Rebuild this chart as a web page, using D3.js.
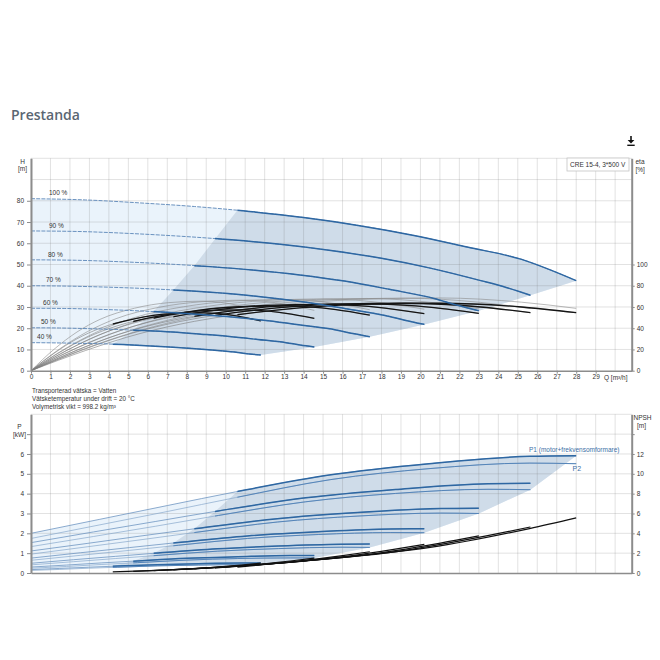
<!DOCTYPE html>
<html><head><meta charset="utf-8">
<script src="https://cdn.jsdelivr.net/npm/d3@7"></script>
<style>
html,body{margin:0;padding:0;background:#fff;}
svg{display:block;font-family:"Liberation Sans",Arial,sans-serif;}
</style></head><body>
<svg id="c" width="660" height="660"></svg>
<script>
// ---------------- DATA ----------------
const speedLabels = ["100 %","90 %","80 %","70 %","60 %","50 %","40 %"];
const qTicks = [0,1,2,3,4,5,6,7,8,9,10,11,12,13,14,15,16,17,18,19,20,21,22,23,24,25,26,27,28,29];
const hTicks = [0,10,20,30,40,50,60,70,80];
const etaTicks = [0,20,40,60,80,100];
const pTicks = [0,1,2,3,4,5,6];
const npshTicks = [0,2,4,6,8,10,12];

// pump head curves (Q in m3/h, H in m)
const headQ = [
 [0,2.8,5.6,8.4,11.2,14,16.8,19.6,22.4,25.2,26.6,28],
 [0,2.6,5.1,7.7,10.3,12.8,15.4,18,20.5,23.1,24.4,25.65],
 [0,2.3,4.6,6.9,9.2,11.5,13.8,16.1,18.4,20.7,21.85,23],
 [0,2.02,4.04,6.06,8.08,10.1,12.12,14.14,16.16,18.18,19.19,20.2],
 [0,1.74,3.48,5.22,6.96,8.7,10.44,12.18,13.92,15.66,16.53,17.4],
 [0,1.46,2.91,4.37,5.82,7.28,8.73,10.19,11.64,13.1,13.82,14.55],
 [0,1.18,2.36,3.54,4.72,5.9,7.08,8.26,9.44,10.62,11.21,11.8]
];
const headH = [
 [81,80.4,79,77.3,75,72.1,68.4,63.8,58.2,52.4,47.7,42.4],
 [65.8,65.5,64.6,63.3,61.6,59.5,56.6,52.9,48.3,42.4,39.2,35.5],
 [52.2,52.0,51.3,50.3,49.0,47.3,45.1,42.2,38.3,34.0,30.9,28.2],
 [40,39.8,39.3,38.6,37.6,36.3,34.5,32.2,29.2,26.0,23.8,21.8],
 [29.4,29.3,28.9,28.3,27.5,26.5,25.2,23.5,21.4,19.2,17.5,16.0],
 [20.2,20.1,19.8,19.4,18.9,18.2,17.2,16.1,14.7,13.2,12.1,11.2],
 [13.2,13.1,12.9,12.7,12.3,11.8,11.2,10.5,9.6,8.6,7.9,7.4]
];
// start of recommended range per speed
const rangeStartQ = [10.6,9.45,8.39,7.31,6.3,5.25,4.2];
const rangeStartH = [75.5,62.0,49.4,38.0,27.9,19.1,12.5];
const rangeStartP1 = [4.11,3.1,2.23,1.51,0.99,0.6,0.34];

// efficiency curves (%)
const etaQ = [
 [0,2.8,5.6,8.4,12.6,16.8,21,25.2,28],
 [0,2.57,5.13,7.7,11.54,15.39,19.24,23.09,25.65],
 [0,2.3,4.6,6.9,10.35,13.8,17.25,20.7,23],
 [0,2.02,4.04,6.06,9.09,12.12,15.15,18.18,20.2],
 [0,1.74,3.48,5.22,7.83,10.44,13.05,15.66,17.4],
 [0,1.46,2.91,4.37,6.55,8.73,10.91,13.1,14.55],
 [0,1.18,2.36,3.54,5.31,7.08,8.85,10.62,11.8]
];
const etaTotal = [
 [0,19,35,46.5,57,62.5,63.5,60,54.6],
 [0,19,35,46.5,57,62.5,63.5,60,54.6],
 [0,18.8,34.7,46,56.4,61.9,62.9,59.4,54],
 [0,18.7,34.4,45.8,56.1,61.5,62.5,59,53.7],
 [0,18.2,33.6,44.6,54.7,60,61,57.6,52.4],
 [0,17.1,31.5,41.9,51.3,56.3,57.2,54,49.3],
 [0,16.3,30,39.9,48.9,53.6,54.4,51.4,46.8]
];
const etaPump = [
 [0,21,38,50.5,61.5,67,68.5,64.5,58.7],
 [0,21,38,50.4,61.3,66.8,68.3,64.3,58.5],
 [0,20.9,37.8,50.2,61,66.5,68,64,58.2],
 [0,20.8,37.6,49.9,60.7,66.1,67.6,63.6,57.9],
 [0,20.6,37.3,49.5,60.2,65.6,67.1,63.1,57.4],
 [0,20.4,36.9,49,59.6,64.9,66.4,62.5,56.8],
 [0,20.1,36.4,48.3,58.8,64.1,65.5,61.6,56.1]
];

// power curves (kW)
const powQ = [
 [0,3.5,7,10.5,15.4,20.44,25.62,28],
 [0,3.21,6.41,9.62,14.11,18.72,23.47,25.65],
 [0,2.88,5.75,8.63,12.65,16.79,21.05,23],
 [0,2.53,5.05,7.58,11.11,14.75,18.48,20.2],
 [0,2.18,4.35,6.53,9.57,12.7,15.92,17.4],
 [0,1.82,3.64,5.46,8.0,10.62,13.31,14.55],
 [0,1.48,2.95,4.43,6.49,8.61,10.8,11.8]
];
const powP1 = [
 [2.0,2.7,3.4,4.09,4.95,5.51,5.88,5.91],
 [1.53,2.07,2.6,3.13,3.79,4.21,4.5,4.52],
 [1.11,1.49,1.88,2.26,2.74,3.05,3.25,3.27],
 [0.75,1.02,1.28,1.54,1.87,2.08,2.22,2.23],
 [0.49,0.67,0.84,1.01,1.22,1.36,1.45,1.46],
 [0.30,0.40,0.51,0.61,0.74,0.82,0.88,0.88],
 [0.17,0.23,0.29,0.35,0.42,0.47,0.5,0.5]
];
const powP2 = [
 [1.74,2.42,3.1,3.8,4.71,5.26,5.54,5.51],
 [1.33,1.84,2.36,2.9,3.59,4.01,4.22,4.2],
 [0.95,1.32,1.69,2.07,2.57,2.87,3.02,3.0],
 [0.64,0.89,1.14,1.4,1.74,1.94,2.04,2.03],
 [0.41,0.57,0.73,0.89,1.1,1.23,1.3,1.29],
 [0.24,0.33,0.43,0.52,0.65,0.73,0.76,0.76],
 [0.13,0.18,0.24,0.29,0.36,0.4,0.42,0.42]
];

// NPSH curves (m)
const npshQ = [
 [10.6,15.36,20.5,25.6,28],
 [9.45,14.07,18.78,23.45,25.65],
 [8.39,12.62,16.84,21.03,23],
 [7.31,11.08,14.79,18.47,20.2],
 [6.3,9.54,12.74,15.91,17.4],
 [5.25,7.99,10.66,13.31,14.55],
 [4.2,6.47,8.63,10.78,11.8]
];
const npshV = [
 [0.6,1.47,2.58,4.48,5.55],
 [0.5,1.23,2.16,3.76,4.64],
 [0.41,0.99,1.74,3.02,3.74],
 [0.31,0.76,1.34,2.33,2.88],
 [0.23,0.57,1.0,1.73,2.14],
 [0.16,0.4,0.7,1.21,1.5],
 [0.11,0.26,0.46,0.8,0.99]
];

const notes = ["Transporterad vätska = Vatten","Vätsketemperatur under drift = 20 °C","Volymetrisk vikt = 998.2 kg/m³"];

// ---------------- DRAWING ----------------
const svg = d3.select("#c");
const X0 = 31, X1 = 631.7;
const x = d3.scaleLinear().domain([0,30.85]).range([X0,X1]);
const yH = d3.scaleLinear().domain([0,100]).range([370.7,158.3]);
const yEta = d3.scaleLinear().domain([0,200]).range([370.7,158.3]);
const yP = d3.scaleLinear().domain([0,8]).range([573,414.3]);
const yN = d3.scaleLinear().domain([0,16]).range([573,414.3]);

const LIGHT = "#eaf3fb", DARK = "#cfdce9";
const BLUE = "#2e67a2", BLUE2 = "#4d7fb6", TXT = "#333";
const FS = "6.5px";

const curveLine = d3.line().curve(d3.curveMonotoneX);
const polyLine = d3.line();
const pts = (qs, vs, sy) => qs.map((q,j)=>[x(q), sy(vs[j])]);

// title + icon
svg.append("text").attr("x",11).attr("y",120).text("Prestanda")
  .style("font-family","'Open Sans',sans-serif").style("font-weight","600")
  .style("font-size","14px").attr("fill","#5a6672");
const ic = svg.append("g").attr("fill","#111").attr("stroke","#111");
ic.append("line").attr("x1",631).attr("x2",631).attr("y1",136).attr("y2",141).attr("stroke-width",1.6);
ic.append("path").attr("d","M627.6,140 L634.4,140 L631,143.6 Z").attr("stroke","none");
ic.append("line").attr("x1",627.3).attr("x2",634.7).attr("y1",145.3).attr("y2",145.3).attr("stroke-width",1.4);

// clip paths for recommended range
const defs = svg.append("defs");
rangeStartQ.forEach((q,i)=>{
  defs.append("clipPath").attr("id","rc"+i).append("rect")
    .attr("x",x(q)).attr("y",0).attr("width",X1-x(q)+10).attr("height",660);
});

function grid(g, yScale, yVals){
  const gg = g.append("g").attr("stroke","rgba(110,110,110,0.2)").attr("stroke-width",1);
  d3.range(0,31).forEach(q=>{
    gg.append("line").attr("x1",x(q)).attr("x2",x(q)).attr("y1",yScale.range()[0]).attr("y2",yScale.range()[1]);
  });
  yVals.forEach(v=>{
    gg.append("line").attr("x1",X0).attr("x2",X1).attr("y1",yScale(v)).attr("y2",yScale(v));
  });
}

// ===== TOP CHART =====
const topG = svg.append("g");
{
  let p = pts(headQ[0], headH[0], yH);
  for(let i=1;i<7;i++){ const n=headQ[i].length-1; p.push([x(headQ[i][n]), yH(headH[i][n])]); }
  const low = pts(headQ[6], headH[6], yH).slice(0,-1).reverse();
  p = p.concat(low);
  topG.append("path").attr("d", polyLine(p)+"Z").attr("fill",LIGHT);
}
{
  let p = [];
  for(let i=6;i>=0;i--) p.push([x(rangeStartQ[i]), yH(rangeStartH[i])]);
  headQ[0].forEach((q,j)=>{ if(q>rangeStartQ[0]) p.push([x(q), yH(headH[0][j])]); });
  for(let i=1;i<7;i++){ const n=headQ[i].length-1; p.push([x(headQ[i][n]), yH(headH[i][n])]); }
  const low = [];
  headQ[6].forEach((q,j)=>{ if(q>rangeStartQ[6] && q<headQ[6][headQ[6].length-1]) low.push([x(q), yH(headH[6][j])]); });
  p = p.concat(low.reverse());
  topG.append("path").attr("d", polyLine(p)+"Z").attr("fill",DARK);
}
grid(topG, yH, [10,20,30,40,50,60,70,80,90,100]);

etaQ.forEach((qs,i)=>{
  topG.append("path").attr("d", curveLine(pts(qs, etaPump[i], yEta)))
    .attr("fill","none").attr("stroke","#8a8a8a").attr("stroke-width",0.6);
  topG.append("path").attr("d", curveLine(pts(qs, etaTotal[i], yEta)))
    .attr("fill","none").attr("stroke","#7a7a7a").attr("stroke-width",0.6);
});
headQ.forEach((qs,i)=>{
  topG.append("path").attr("d", curveLine(pts(qs, headH[i], yH)))
    .attr("fill","none").attr("stroke","#5a86b8").attr("stroke-width",0.9).attr("stroke-dasharray","4,1.2");
});
etaQ.forEach((qs,i)=>{
  topG.append("path").attr("d", curveLine(pts(qs, etaTotal[i], yEta)))
    .attr("clip-path","url(#rc"+i+")")
    .attr("fill","none").attr("stroke","#151515").attr("stroke-width",1.3);
});
headQ.forEach((qs,i)=>{
  topG.append("path").attr("d", curveLine(pts(qs, headH[i], yH)))
    .attr("clip-path","url(#rc"+i+")")
    .attr("fill","none").attr("stroke",BLUE).attr("stroke-width",1.5);
});
const labelQ = [0.92,0.92,0.87,0.77,0.62,0.51,0.31];
speedLabels.forEach((s,i)=>{
  topG.append("text").attr("x",x(labelQ[i])).attr("y",yH(headH[i][0])-3.3)
    .text(s).style("font-size",FS).attr("fill",TXT);
});

function styleAxis(g, w){
  g.select(".domain").attr("stroke","#8c8c8c").attr("stroke-width",w);
  g.selectAll(".tick line").attr("stroke","#8c8c8c");
  g.selectAll(".tick text").style("font-size",FS).attr("fill",TXT)
    .style("font-family","'Liberation Sans',Arial,sans-serif");
}
const axL = topG.append("g").attr("transform",`translate(${X0},0)`)
  .call(d3.axisLeft(yH).tickValues(hTicks).tickSize(4).tickSizeOuter(0).tickPadding(3));
styleAxis(axL, 2);
const axR = topG.append("g").attr("transform",`translate(${X1},0)`)
  .call(d3.axisRight(yEta).tickValues(etaTicks).tickSize(3).tickSizeOuter(0).tickPadding(2));
styleAxis(axR, 2);
const axB = topG.append("g").attr("transform",`translate(0,${yH(0)})`)
  .call(d3.axisBottom(x).tickValues(qTicks).tickSize(3).tickSizeOuter(0).tickPadding(1));
styleAxis(axB, 1.6);
topG.append("text").attr("x",604).attr("y",380).text("Q [m³/h]").style("font-size",FS).attr("fill",TXT);
topG.append("text").attr("x",22.5).attr("y",163.5).attr("text-anchor","middle").text("H").style("font-size",FS).attr("fill",TXT);
topG.append("text").attr("x",22.5).attr("y",171).attr("text-anchor","middle").text("[m]").style("font-size",FS).attr("fill",TXT);
topG.append("text").attr("x",635.5).attr("y",163.5).text("eta").style("font-size",FS).attr("fill",TXT);
topG.append("text").attr("x",635.5).attr("y",171.5).text("[%]").style("font-size",FS).attr("fill",TXT);
topG.append("rect").attr("x",567).attr("y",158).attr("width",62).attr("height",13)
  .attr("fill","#fff").attr("stroke","#c4c4c4").attr("stroke-width",0.8);
topG.append("text").attr("x",570).attr("y",167.3).text("CRE 15-4, 3*500 V").style("font-size",FS).attr("fill",TXT);

notes.forEach((t,i)=>{
  svg.append("text").attr("x",32).attr("y",393+i*8).text(t).style("font-size","6.3px").attr("fill",TXT);
});

// ===== BOTTOM CHART =====
const botG = svg.append("g");
{
  let p = pts(powQ[0], powP1[0], yP);
  for(let i=1;i<7;i++){ const n=powQ[i].length-1; p.push([x(powQ[i][n]), yP(powP2[i][n])]); }
  const low = pts(powQ[6], powP2[6], yP).slice(0,-1).reverse();
  p = p.concat(low);
  botG.append("path").attr("d", polyLine(p)+"Z").attr("fill",LIGHT);
}
{
  let p = [];
  for(let i=6;i>=0;i--) p.push([x(rangeStartQ[i]), yP(rangeStartP1[i])]);
  powQ[0].forEach((q,j)=>{ if(q>rangeStartQ[0]) p.push([x(q), yP(powP1[0][j])]); });
  for(let i=1;i<7;i++){ const n=powQ[i].length-1; p.push([x(powQ[i][n]), yP(powP2[i][n])]); }
  const low = [];
  powQ[6].forEach((q,j)=>{ if(q>rangeStartQ[6] && q<powQ[6][powQ[6].length-1]) low.push([x(q), yP(powP2[6][j])]); });
  p = p.concat(low.reverse());
  botG.append("path").attr("d", polyLine(p)+"Z").attr("fill",DARK);
}
grid(botG, yP, [1,2,3,4,5,6,7,8]);

powQ.forEach((qs,i)=>{
  botG.append("path").attr("d", curveLine(pts(qs, powP1[i], yP)))
    .attr("fill","none").attr("stroke","#6f96c2").attr("stroke-width",0.8);
  botG.append("path").attr("d", curveLine(pts(qs, powP2[i], yP)))
    .attr("fill","none").attr("stroke","#86a7cc").attr("stroke-width",0.7);
});
powQ.forEach((qs,i)=>{
  botG.append("path").attr("d", curveLine(pts(qs, powP1[i], yP)))
    .attr("clip-path","url(#rc"+i+")")
    .attr("fill","none").attr("stroke",BLUE).attr("stroke-width",1.5);
  botG.append("path").attr("d", curveLine(pts(qs, powP2[i], yP)))
    .attr("clip-path","url(#rc"+i+")")
    .attr("fill","none").attr("stroke",BLUE2).attr("stroke-width",0.9);
});
npshQ.forEach((qs,i)=>{
  botG.append("path").attr("d", curveLine(pts(qs, npshV[i], yN)))
    .attr("fill","none").attr("stroke","#111").attr("stroke-width",1.2);
});
botG.append("text").attr("x",529).attr("y",451.5).text("P1 (motor+frekvensomformare)")
  .style("font-size",FS).attr("fill","#3d6fa6");
botG.append("text").attr("x",572.5).attr("y",470.5).text("P2").style("font-size","7px").attr("fill","#3d6fa6");

const bL = botG.append("g").attr("transform",`translate(${X0},0)`)
  .call(d3.axisLeft(yP).tickValues([0,1,2,3,4,5,6,7]).tickFormat(d=>pTicks.includes(d)?d:"")
    .tickSize(4).tickSizeOuter(0).tickPadding(3));
styleAxis(bL, 2);
const bR = botG.append("g").attr("transform",`translate(${X1},0)`)
  .call(d3.axisRight(yN).tickValues([0,2,4,6,8,10,12,14]).tickFormat(d=>npshTicks.includes(d)?d:"")
    .tickSize(3).tickSizeOuter(0).tickPadding(2));
styleAxis(bR, 2);
const bB = botG.append("g").attr("transform",`translate(0,${yP(0)})`)
  .call(d3.axisBottom(x).tickValues([]).tickSizeOuter(0));
styleAxis(bB, 1.6);
botG.append("text").attr("x",19.5).attr("y",429).attr("text-anchor","middle").text("P").style("font-size",FS).attr("fill",TXT);
botG.append("text").attr("x",19.5).attr("y",436.5).attr("text-anchor","middle").text("[kW]").style("font-size",FS).attr("fill",TXT);
botG.append("text").attr("x",633.5).attr("y",419.5).text("NPSH").style("font-size",FS).attr("fill",TXT);
botG.append("text").attr("x",637).attr("y",428).text("[m]").style("font-size",FS).attr("fill",TXT);
</script>
</body></html>
